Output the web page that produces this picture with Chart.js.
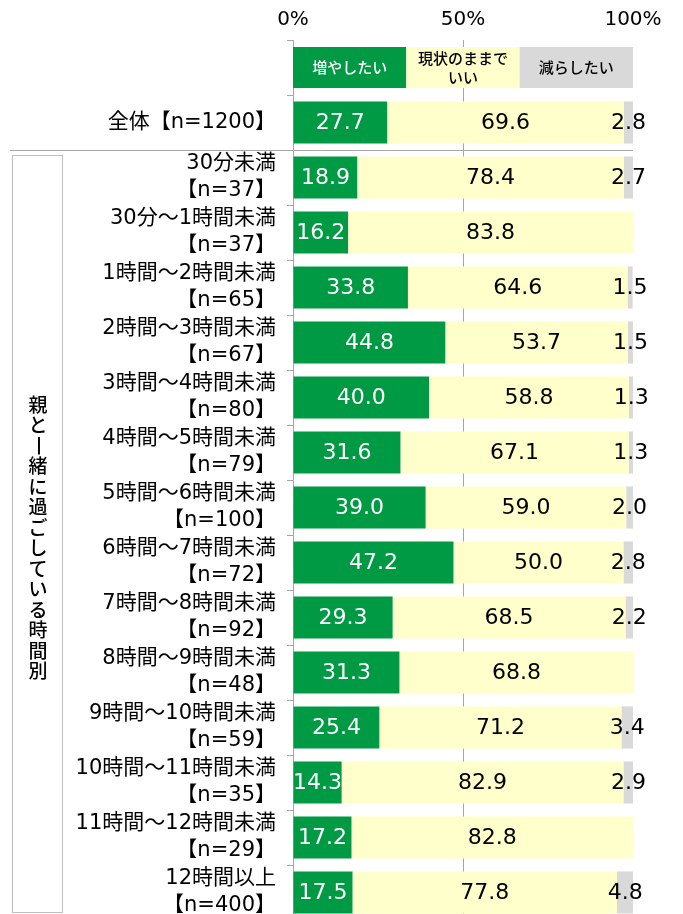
<!DOCTYPE html>
<html lang="ja">
<head>
<meta charset="utf-8">
<script src="https://cdn.jsdelivr.net/npm/chart.js@4/dist/chart.umd.min.js"></script>
<style>
  html, body { margin: 0; padding: 0; background: #fff; overflow: hidden; }
  #grafico { display: block; }
</style>
</head>
<body>
<canvas id="grafico" width="683" height="922"></canvas>
<script>
// Dados do gráfico (primeira linha vazia = linha da legenda)
const categorias = [
    '',
    '全体【n=1200】',
    ['30分未満', '【n=37】'],
    ['30分～1時間未満', '【n=37】'],
    ['1時間～2時間未満', '【n=65】'],
    ['2時間～3時間未満', '【n=67】'],
    ['3時間～4時間未満', '【n=80】'],
    ['4時間～5時間未満', '【n=79】'],
    ['5時間～6時間未満', '【n=100】'],
    ['6時間～7時間未満', '【n=72】'],
    ['7時間～8時間未満', '【n=92】'],
    ['8時間～9時間未満', '【n=48】'],
    ['9時間～10時間未満', '【n=59】'],
    ['10時間～11時間未満', '【n=35】'],
    ['11時間～12時間未満', '【n=29】'],
    ['12時間以上', '【n=400】']
];
const nomesSeries = ['増やしたい', ['現状のままで', 'いい'], '減らしたい'];
const aumentar = [null, 27.7, 18.9, 16.2, 33.8, 44.8, 40.0, 31.6, 39.0, 47.2, 29.3, 31.3, 25.4, 14.3, 17.2, 17.5];
const manter   = [null, 69.6, 78.4, 83.8, 64.6, 53.7, 58.8, 67.1, 59.0, 50.0, 68.5, 68.8, 71.2, 82.9, 82.8, 77.8];
const diminuir = [null, 2.8, 2.7, null, 1.5, 1.5, 1.3, 1.3, 2.0, 2.8, 2.2, null, 3.4, 2.9, null, 4.8];
const ticksX = [0, 50, 100];
const tituloLateral = '親と一緒に過ごしている時間別';

const cores = ['#009a44', '#ffffcc', '#d9d9d9'];
const corLinha = '#a6a6a6';
const fonteJp = "'Noto Sans CJK JP', 'Noto Sans', sans-serif";
const fonteNum = "'DejaVu Sans', 'Noto Sans CJK JP', sans-serif";

Chart.defaults.font.family = fonteNum;
Chart.defaults.color = '#000';

// Rótulos de valor dentro das barras
const rotulosValores = {
    id: 'rotulosValores',
    afterDatasetsDraw(chart) {
        const ctx = chart.ctx;
        ctx.save();
        ctx.font = '22px ' + fonteNum;
        ctx.textAlign = 'center';
        ctx.textBaseline = 'middle';
        chart.data.datasets.forEach(function (ds, i) {
            const meta = chart.getDatasetMeta(i);
            meta.data.forEach(function (bar, j) {
                const v = ds.data[j];
                if (v == null) return;
                ctx.fillStyle = i === 0 ? '#fff' : '#000';
                ctx.fillText(v.toFixed(1), (bar.x + bar.base) / 2, bar.y + 1);
            });
        });
        ctx.restore();
    }
};

// Legenda em forma de barra, separador e título vertical
const extras = {
    id: 'extras',
    afterDatasetsDraw(chart) {
        const ctx = chart.ctx;
        const x = chart.scales.x;
        const y = chart.scales.y;
        const altura = 41;
        const yLeg = y.getPixelForValue(0);
        ctx.save();

        // legenda
        const limites = [0, 100 / 3, 200 / 3, 100];
        ctx.textAlign = 'center';
        ctx.textBaseline = 'middle';
        for (let i = 0; i < 3; i++) {
            const x0 = x.getPixelForValue(limites[i]);
            const x1 = x.getPixelForValue(limites[i + 1]);
            ctx.fillStyle = cores[i];
            ctx.fillRect(x0, yLeg - altura / 2, x1 - x0, altura);
            ctx.fillStyle = i === 0 ? '#fff' : '#000';
            ctx.font = '500 15px ' + fonteJp;
            const linhas = [].concat(nomesSeries[i]);
            linhas.forEach(function (t, k) {
                const dy = (k - (linhas.length - 1) / 2) * 19;
                ctx.fillText(t, (x0 + x1) / 2, yLeg + dy);
            });
        }

        // separador entre 全体 e o resto
        const ySep = Math.round((y.getPixelForValue(1) + y.getPixelForValue(2)) / 2) + 0.5;
        ctx.strokeStyle = corLinha;
        ctx.lineWidth = 1;
        ctx.beginPath();
        ctx.moveTo(10, ySep);
        ctx.lineTo(x.right, ySep);
        ctx.stroke();

        // caixa do título vertical
        const topo = ySep + 5;
        const fundo = chart.chartArea.bottom - 7.5;
        ctx.strokeStyle = '#bfbfbf';
        ctx.strokeRect(12.5, topo, 50, fundo - topo);

        ctx.fillStyle = '#000';
        ctx.font = '500 19px ' + fonteJp;
        const passo = 20.5;
        const chars = Array.from(tituloLateral);
        const meio = 538;
        const inicio = meio - (chars.length - 1) * passo / 2;
        chars.forEach(function (c, k) {
            const cy = inicio + k * passo;
            if (c === '一') {
                ctx.save();
                ctx.translate(38, cy);
                ctx.rotate(Math.PI / 2);
                ctx.fillText(c, 0, 0);
                ctx.restore();
            } else {
                ctx.fillText(c, 38, cy);
            }
        });
        ctx.restore();
    }
};

const ctx = document.getElementById('grafico').getContext('2d');
const grafico = new Chart(ctx, {
    type: 'bar',
    data: {
        labels: categorias,
        datasets: [
            { label: '増やしたい', data: aumentar, backgroundColor: cores[0] },
            { label: '現状のままでいい', data: manter, backgroundColor: cores[1] },
            { label: '減らしたい', data: diminuir, backgroundColor: cores[2] }
        ]
    },
    options: {
        indexAxis: 'y',
        responsive: false,
        animation: false,
        layout: { padding: { left: 0, right: 50, top: 0, bottom: 2 } },
        datasets: {
            bar: { barPercentage: 1, categoryPercentage: 0.765, borderWidth: 0 }
        },
        plugins: {
            legend: { display: false },
            tooltip: { enabled: false }
        },
        scales: {
            x: {
                position: 'top',
                stacked: true,
                min: 0,
                max: 100,
                afterBuildTicks: function (s) {
                    s.ticks = ticksX.map(function (v) { return { value: v }; });
                },
                afterFit: function (s) {
                    s.height = 40;
                    s.paddingLeft = 0;
                    s.paddingRight = 0;
                },
                ticks: {
                    padding: 8,
                    font: { size: 20 },
                    callback: function (v) { return v + '%'; }
                },
                border: { display: false },
                grid: {
                    drawTicks: false,
                    color: function (c) { return c.tick && c.tick.value === 50 ? corLinha : 'rgba(0,0,0,0)'; }
                }
            },
            y: {
                stacked: true,
                afterFit: function (s) {
                    s.width = 293;
                    s.paddingTop = 0;
                    s.paddingBottom = 0;
                },
                ticks: {
                    autoSkip: false,
                    padding: 11,
                    font: { size: 21, lineHeight: 1.29 }
                },
                border: { display: true, color: corLinha },
                grid: {
                    offset: true,
                    drawOnChartArea: false,
                    drawTicks: true,
                    tickLength: 6,
                    color: corLinha
                }
            }
        }
    },
    plugins: [rotulosValores, extras]
});
</script>
</body>
</html>
